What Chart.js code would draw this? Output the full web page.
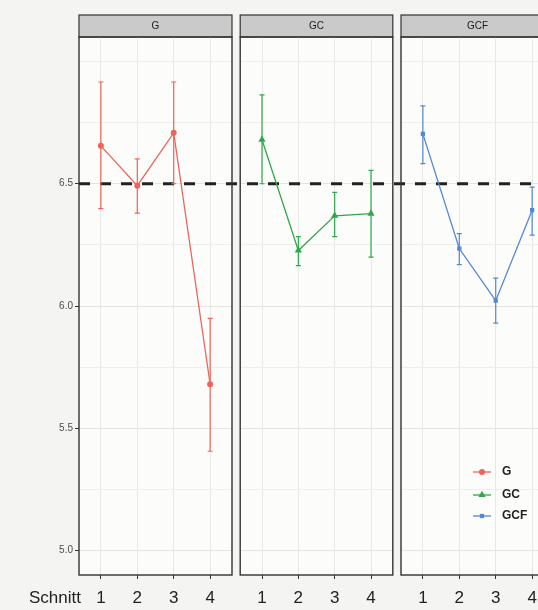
<!DOCTYPE html>
<html>
<head>
<meta charset="utf-8">
<script src="https://cdn.jsdelivr.net/npm/chart.js@4.4.1/dist/chart.umd.min.js"></script>
<style>
body{margin:0;background:#f4f4f2;width:538px;height:610px;overflow:hidden;position:relative;font-family:"Liberation Sans",Arial,sans-serif}
canvas{position:absolute;top:0}
</style>
</head>
<body>
<canvas id="p0" width="236" height="610" style="left:0px"></canvas>
<canvas id="p1" width="161" height="610" style="left:236px"></canvas>
<canvas id="p2" width="161" height="610" style="left:397px"></canvas>
<script>
// Schnitt on x, mean +- error per group
var schnitt = [1, 2, 3, 4];
var groups = ['G', 'GC', 'GCF'];
var colors = ['#ee6459', '#2fa84c', '#5289d2'];
var shapes = ['circle', 'triangle', 'rect'];
var sizes = [3, 4.2, 3];

var meanG = [6.655, 6.492, 6.708, 5.68];
var loG = [6.398, 6.38, 6.5, 5.406];
var hiG = [6.916, 6.602, 6.916, 5.949];

var meanGC = [6.68, 6.227, 6.369, 6.378];
var loGC = [6.5, 6.165, 6.284, 6.2];
var hiGC = [6.863, 6.284, 6.465, 6.555];

var meanGCF = [6.704, 6.235, 6.022, 6.392];
var loGCF = [6.582, 6.169, 5.93, 6.29];
var hiGCF = [6.818, 6.296, 6.114, 6.486];

var yTicks = [5.0, 5.5, 6.0, 6.5];
var yMinor = [5.25, 5.75, 6.25, 6.75, 7.0];
var refLine = 6.5;

var means = [meanG, meanGC, meanGCF];
var los = [loG, loGC, loGCF];
var his = [hiG, hiGC, hiGCF];
var canvasLeft = [0, 236, 397];
var FONT = '"Liberation Sans", Arial, sans-serif';

var facetPlugin = {
  id: 'facet',
  beforeDraw: function(chart) {
    var c = chart.ctx, a = chart.chartArea, idx = chart.options.plugins.facet.idx;
    c.save();
    c.fillStyle = '#fcfcfb';
    c.fillRect(a.left, a.top, a.right - a.left, a.bottom - a.top);
    // strip
    c.fillStyle = '#cacaca';
    c.fillRect(a.left, a.top - 22, a.right - a.left, 22);
    c.strokeStyle = '#333';
    c.lineWidth = 1.2;
    c.strokeRect(a.left, a.top - 22, a.right - a.left, 22);
    c.fillStyle = '#1a1a1a';
    c.font = '10px ' + FONT;
    c.textAlign = 'center';
    c.textBaseline = 'middle';
    c.fillText(groups[idx], (a.left + a.right) / 2, a.top - 11);
    c.restore();
  },
  beforeDatasetsDraw: function(chart) {
    var c = chart.ctx, a = chart.chartArea, idx = chart.options.plugins.facet.idx;
    var xs = chart.scales.x, ys = chart.scales.y;
    c.save();
    // reference line
    var y0 = ys.getPixelForValue(refLine);
    var x0 = idx === 0 ? a.left : 0;
    c.strokeStyle = '#222';
    c.lineWidth = 3;
    c.setLineDash([11, 10]);
    c.lineDashOffset = (canvasLeft[idx] + x0) - 79;
    c.beginPath();
    c.moveTo(x0, y0);
    c.lineTo(chart.width, y0);
    c.stroke();
    c.setLineDash([]);
    // error bars
    c.strokeStyle = colors[idx];
    c.lineWidth = 1.2;
    for (var i = 0; i < schnitt.length; i++) {
      var x = xs.getPixelForValue(schnitt[i]);
      var yl = ys.getPixelForValue(los[idx][i]);
      var yh = ys.getPixelForValue(his[idx][i]);
      c.beginPath();
      c.moveTo(x, yl); c.lineTo(x, yh);
      c.moveTo(x - 2.5, yl); c.lineTo(x + 2.5, yl);
      c.moveTo(x - 2.5, yh); c.lineTo(x + 2.5, yh);
      c.stroke();
    }
    c.restore();
  },
  afterDraw: function(chart) {
    var c = chart.ctx, a = chart.chartArea, idx = chart.options.plugins.facet.idx;
    c.save();
    c.strokeStyle = '#333';
    c.lineWidth = 1.4;
    c.strokeRect(a.left, a.top, a.right - a.left, a.bottom - a.top);
    if (idx === 0) {
      c.fillStyle = '#222';
      c.font = '17px ' + FONT;
      c.textAlign = 'right';
      c.textBaseline = 'alphabetic';
      c.fillText('Schnitt', a.left + 2, a.bottom + 28);
    }
    if (idx === 2) {
      // legend
      c.font = 'bold 12px ' + FONT;
      c.textBaseline = 'middle';
      c.textAlign = 'left';
      var offs = [103, 80, 59];
      for (var g = 0; g < groups.length; g++) {
        var ly = a.bottom - offs[g];
        c.strokeStyle = colors[g];
        c.lineWidth = 1.3;
        c.beginPath();
        c.moveTo(a.left + 72, ly); c.lineTo(a.left + 90, ly);
        c.stroke();
        c.fillStyle = colors[g];
        Chart.helpers.drawPoint(c, {pointStyle: shapes[g], radius: sizes[g], borderWidth: 0}, a.left + 81, ly);
        c.fillStyle = '#222';
        c.fillText(groups[g], a.left + 101, ly);
      }
    }
    c.restore();
  }
};

function makePanel(idx) {
  var first = idx === 0;
  return new Chart(document.getElementById('p' + idx), {
    type: 'line',
    data: {
      datasets: [{
        label: groups[idx],
        data: schnitt.map(function(s, i) { return {x: s, y: means[idx][i]}; }),
        borderColor: colors[idx],
        backgroundColor: colors[idx],
        borderWidth: 1.3,
        pointStyle: shapes[idx],
        pointRadius: sizes[idx],
        pointBorderWidth: 0,
        tension: 0
      }]
    },
    options: {
      responsive: false,
      animation: false,
      layout: {padding: {top: 37, left: first ? 0 : 3, right: idx === 1 ? 4 : 3, bottom: 0}},
      plugins: {legend: {display: false}, tooltip: {enabled: false}, facet: {idx: idx}},
      scales: {
        x: {
          type: 'linear', min: 0.4, max: 4.6,
          afterBuildTicks: function(s) { s.ticks = schnitt.map(function(v) { return {value: v}; }); },
          afterFit: function(s) { s.height = 35; },
          grid: {color: '#e8e8e6', lineWidth: 1, tickColor: '#333', tickLength: 4},
          border: {display: false},
          ticks: {color: '#222', padding: 9, maxRotation: 0, font: {size: 17, family: FONT},
            callback: function(v) { return String(v); }}
        },
        y: {
          min: 4.9, max: 7.1,
          afterBuildTicks: function(s) {
            s.ticks = yTicks.concat(yMinor).sort().map(function(v) { return {value: v}; });
          },
          afterFit: function(s) { s.width = first ? 79 : 0; },
          grid: {
            color: function(ctx) { return yTicks.indexOf(ctx.tick.value) >= 0 ? '#e4e4e2' : '#eeeeec'; },
            tickColor: function(ctx) { return yTicks.indexOf(ctx.tick.value) >= 0 ? '#333' : 'rgba(0,0,0,0)'; },
            tickLength: 4,
            drawTicks: first
          },
          border: {display: false},
          ticks: {display: first, color: '#4d4d4d', padding: 2, font: {size: 10, family: FONT},
            callback: function(v) { return yTicks.indexOf(v) >= 0 ? v.toFixed(1) : ''; }}
        }
      }
    },
    plugins: [facetPlugin]
  });
}

makePanel(0);
makePanel(1);
makePanel(2);
</script>
</body>
</html>
